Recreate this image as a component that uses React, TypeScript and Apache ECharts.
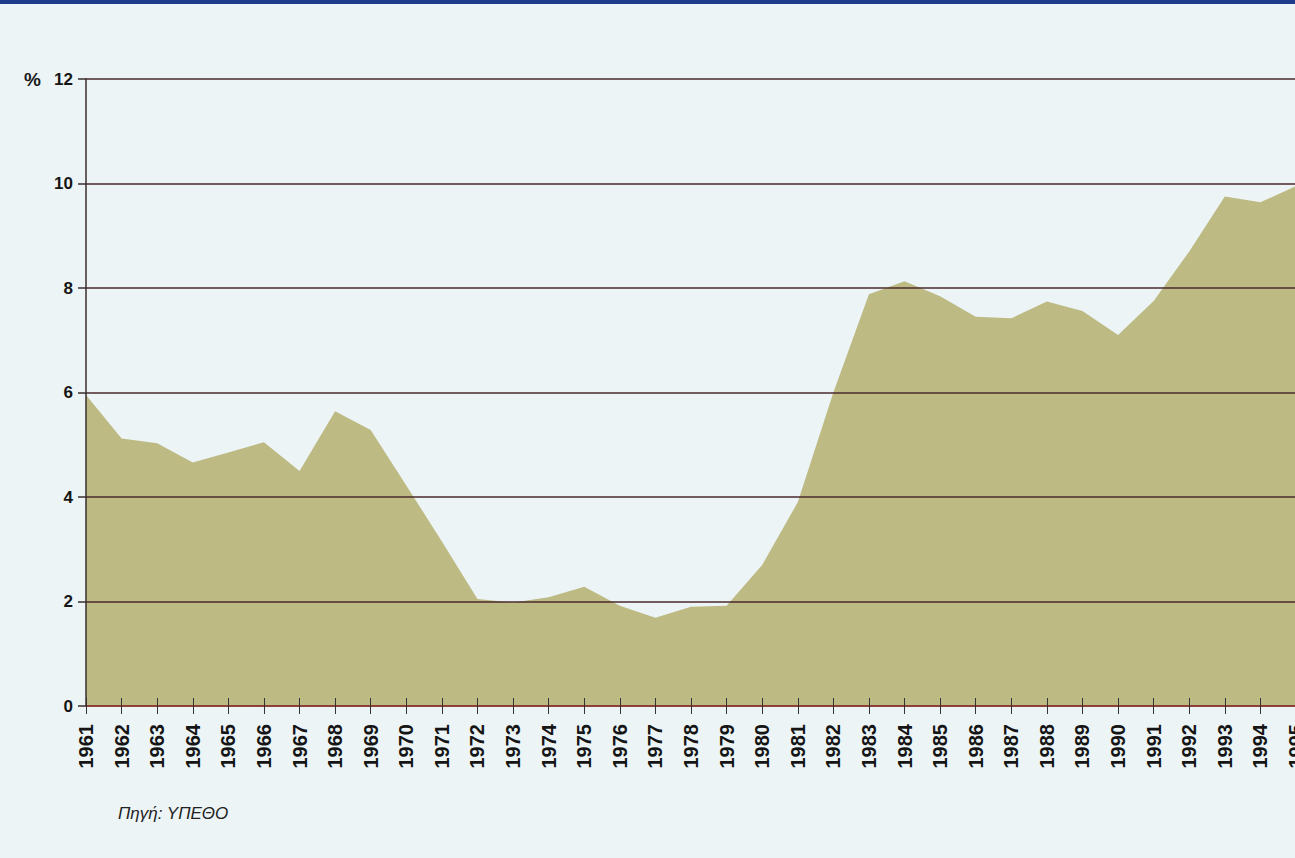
import React, { useEffect, useRef } from "react";
import * as echarts from "echarts";

const years: string[] = [
  "1961", "1962", "1963", "1964", "1965", "1966", "1967", "1968", "1969", "1970",
  "1971", "1972", "1973", "1974", "1975", "1976", "1977", "1978", "1979", "1980",
  "1981", "1982", "1983", "1984", "1985", "1986", "1987", "1988", "1989", "1990",
  "1991", "1992", "1993", "1994", "1995",
];

const values: number[] = [
  5.95, 5.12, 5.03, 4.66, 4.85, 5.05, 4.5, 5.64, 5.28, 4.22,
  3.15, 2.05, 1.98, 2.08, 2.28, 1.92, 1.69, 1.9, 1.92, 2.7,
  3.9, 6.0, 7.88, 8.13, 7.84, 7.45, 7.42, 7.74, 7.56, 7.1,
  7.75, 8.7, 9.75, 9.64, 9.95,
];

const yTicks: number[] = [0, 2, 4, 6, 8, 10, 12];

export default function App() {
  const ref = useRef<HTMLDivElement>(null);

  useEffect(() => {
    if (!ref.current) return;
    const chart = echarts.init(ref.current, null, { renderer: "svg" });
    const option: any = {
      animation: false,
      backgroundColor: "#ecf4f6",
      grid: {
        left: 86,
        right: -1,
        top: 79,
        bottom: 152,
        containLabel: false,
        outerBoundsMode: "none",
      },
      graphic: [
        { type: "rect", shape: { x: 0, y: 0, width: 1295, height: 4 }, style: { fill: "#1d3c8c" } },
        {
          type: "text",
          left: 24,
          top: 70,
          style: { text: "%", font: "bold 19px 'Liberation Sans', Arial, sans-serif", fill: "#1a1a1a" },
        },
        {
          type: "text",
          left: 118,
          top: 805,
          style: { text: "Πηγή: ΥΠΕΘΟ", font: "italic 17px 'Liberation Sans', Arial, sans-serif", fill: "#222" },
        },
      ],
      xAxis: [
        {
          type: "category",
          data: years,
          boundaryGap: false,
          axisLine: { show: true, lineStyle: { color: "#9a3a32", width: 1.5 } },
          axisTick: { show: true, length: 8, interval: 0, lineStyle: { color: "#333", width: 1 } },
          axisLabel: {
            interval: 0,
            rotate: 90,
            margin: 18,
            color: "#151515",
            fontFamily: "'Liberation Sans', Arial, sans-serif",
            fontWeight: "bold",
            fontSize: 20,
          },
          splitLine: { show: false },
          z: 3,
        },
        {
          type: "category",
          data: years,
          boundaryGap: false,
          position: "bottom",
          axisLine: { show: false },
          axisTick: { show: true, inside: true, length: 8, interval: 0, lineStyle: { color: "#333", width: 1 } },
          axisLabel: { show: false },
          splitLine: { show: false },
          z: 3,
        },
      ],
      yAxis: {
        type: "value",
        min: 0,
        max: 12,
        interval: 2,
        z: 3,
        axisLine: { show: true, lineStyle: { color: "#3a2e2e", width: 1.5 } },
        axisTick: { show: true, length: 8, lineStyle: { color: "#3a2e2e", width: 1.5 } },
        axisLabel: {
          margin: 13,
          color: "#151515",
          fontFamily: "'Liberation Sans', Arial, sans-serif",
          fontWeight: "bold",
          fontSize: 17,
          formatter: (v: number) => (yTicks.includes(v) ? String(v) : ""),
        },
        splitLine: { show: true, lineStyle: { color: "#4a2a2c", width: 1.6 } },
      },
      series: [
        {
          type: "line",
          data: values,
          xAxisIndex: 0,
          showSymbol: false,
          symbol: "none",
          lineStyle: { width: 0 },
          areaStyle: { color: "#bdba84", opacity: 1 },
          z: 2,
        },
      ],
    };
    chart.setOption(option);
    return () => chart.dispose();
  }, []);

  return (
    <div
      ref={ref}
      style={{ position: "fixed", left: 0, top: 0, width: 1295, height: 858 }}
    />
  );
}
